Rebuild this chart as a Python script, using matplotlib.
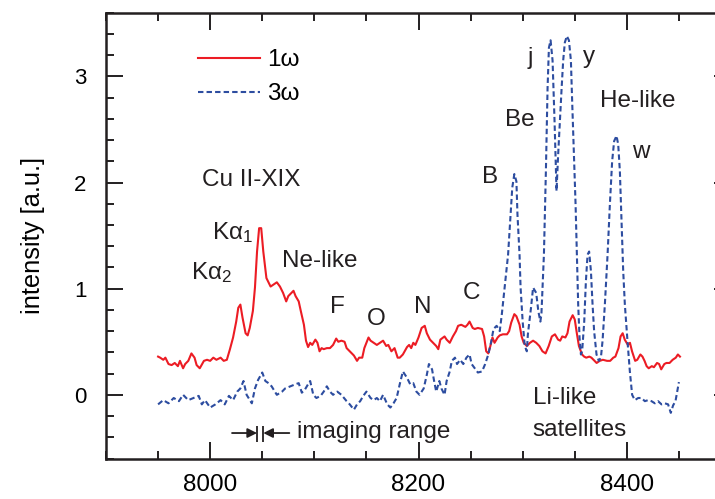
import numpy as np
import matplotlib
matplotlib.use("Agg")
import matplotlib.pyplot as plt
from matplotlib.ticker import MultipleLocator

plt.rcParams.update({'font.family': ['Liberation Sans', 'DejaVu Sans'],
                     'font.size': 17,
                     'mathtext.fontset': 'custom',
                     'mathtext.rm': 'Liberation Sans',
                     'mathtext.it': 'Liberation Sans:italic'})

# photon energy (eV) / intensity (a.u.)
E_1w = [7950, 7952, 7955, 7957, 7960, 7963, 7966, 7969, 7971, 7974, 7976, 7979,
        7982, 7985, 7987, 7990, 7994, 7997, 8000, 8003, 8006, 8010, 8013, 8016,
        8019, 8022, 8025, 8027, 8029, 8031, 8034, 8036, 8038, 8041, 8043, 8045,
        8047, 8049, 8051, 8054, 8056, 8058, 8061, 8064, 8067, 8070, 8073, 8075,
        8078, 8080, 8082, 8085, 8087, 8090, 8092, 8094, 8096, 8098, 8101, 8103,
        8105, 8107, 8109, 8112, 8115, 8118, 8121, 8123, 8126, 8129, 8131, 8134,
        8138, 8141, 8143, 8146, 8148, 8150, 8152, 8154, 8157, 8160, 8163, 8166,
        8169, 8171, 8174, 8177, 8180, 8182, 8185, 8189, 8191, 8193, 8195, 8197,
        8200, 8203, 8206, 8208, 8211, 8214, 8217, 8219, 8221, 8225, 8227, 8230,
        8233, 8236, 8238, 8241, 8245, 8247, 8249, 8252, 8254, 8257, 8261, 8263,
        8265, 8267, 8269, 8271, 8273, 8276, 8278, 8281, 8285, 8287, 8289, 8292,
        8294, 8297, 8299, 8301, 8304, 8307, 8310, 8313, 8316, 8319, 8322, 8325,
        8328, 8331, 8334, 8336, 8338, 8341, 8343, 8345, 8348, 8350, 8352, 8354,
        8357, 8359, 8361, 8364, 8366, 8369, 8371, 8374, 8377, 8381, 8384, 8387,
        8389, 8392, 8394, 8396, 8398, 8401, 8403, 8405, 8408, 8410, 8413, 8415,
        8417, 8419, 8421, 8424, 8426, 8429, 8431, 8433, 8436, 8438, 8441, 8444,
        8447, 8449, 8451]
I_1w = [0.36, 0.35, 0.33, 0.35, 0.29, 0.28, 0.30, 0.27, 0.32, 0.25, 0.29, 0.32,
        0.39, 0.35, 0.28, 0.25, 0.32, 0.33, 0.32, 0.35, 0.33, 0.35, 0.32, 0.33,
        0.43, 0.54, 0.69, 0.82, 0.85, 0.73, 0.58, 0.56, 0.63, 0.79, 1.01, 1.35,
        1.57, 1.57, 1.35, 1.10, 1.06, 1.02, 1.04, 1.06, 1.02, 0.96, 0.88, 0.93,
        0.96, 0.98, 0.93, 0.88, 0.79, 0.66, 0.51, 0.45, 0.49, 0.47, 0.52, 0.49,
        0.41, 0.44, 0.43, 0.44, 0.44, 0.47, 0.53, 0.50, 0.51, 0.50, 0.44, 0.41,
        0.37, 0.32, 0.35, 0.35, 0.44, 0.49, 0.54, 0.51, 0.49, 0.47, 0.49, 0.51,
        0.46, 0.47, 0.41, 0.44, 0.35, 0.35, 0.38, 0.45, 0.47, 0.44, 0.49, 0.47,
        0.54, 0.63, 0.65, 0.58, 0.52, 0.49, 0.46, 0.43, 0.52, 0.55, 0.52, 0.49,
        0.55, 0.60, 0.65, 0.66, 0.64, 0.66, 0.69, 0.63, 0.62, 0.63, 0.62, 0.55,
        0.41, 0.39, 0.46, 0.54, 0.49, 0.54, 0.56, 0.57, 0.57, 0.60, 0.68, 0.76,
        0.74, 0.66, 0.55, 0.49, 0.46, 0.49, 0.51, 0.49, 0.46, 0.41, 0.39, 0.46,
        0.55, 0.57, 0.52, 0.51, 0.55, 0.54, 0.58, 0.69, 0.75, 0.71, 0.58, 0.46,
        0.38, 0.36, 0.35, 0.36, 0.35, 0.32, 0.30, 0.32, 0.33, 0.32, 0.32, 0.35,
        0.36, 0.44, 0.55, 0.58, 0.52, 0.47, 0.49, 0.41, 0.32, 0.33, 0.38, 0.36,
        0.32, 0.27, 0.25, 0.27, 0.26, 0.30, 0.29, 0.24, 0.29, 0.30, 0.30, 0.33,
        0.35, 0.38, 0.36]

E_3w = [7950, 7955, 7960, 7965, 7970, 7974, 7979, 7984, 7989, 7992, 7995, 8000,
        8005, 8010, 8014, 8018, 8022, 8026, 8029, 8032, 8035, 8040, 8043, 8046,
        8050, 8053, 8056, 8059, 8064, 8069, 8072, 8077, 8082, 8085, 8088, 8091,
        8094, 8096, 8099, 8102, 8106, 8109, 8112, 8115, 8118, 8122, 8126, 8131,
        8134, 8138, 8141, 8144, 8147, 8150, 8154, 8157, 8160, 8163, 8166, 8170,
        8173, 8176, 8179, 8182, 8185, 8189, 8192, 8195, 8198, 8201, 8205, 8208,
        8210, 8213, 8215, 8217, 8220, 8222, 8225, 8227, 8230, 8232, 8235, 8237,
        8240, 8243, 8246, 8249, 8251, 8254, 8257, 8261, 8264, 8267, 8270, 8272,
        8275, 8278, 8280, 8282, 8284, 8286, 8288, 8290, 8292, 8294, 8295, 8297,
        8298, 8300, 8302, 8304, 8305, 8308, 8310, 8313, 8315, 8317, 8318,
        8320.4, 8322.3, 8323.9, 8325.2, 8326.8, 8328.7, 8330.6, 8332.5, 8334.1,
        8335.7, 8337.4, 8338.9, 8340.5, 8342.4, 8344.4, 8346.3, 8347.6, 8349.2,
        8350.8, 8352.0, 8353.3, 8354.6, 8355.9, 8357.1, 8359.1, 8360.7, 8362.3,
        8363.8, 8365.5, 8367.1, 8368.6, 8370.9, 8373.1, 8375.1, 8376.7, 8378.9,
        8381.5, 8383.7, 8385.9, 8387.8, 8390.1, 8391.7, 8393.3, 8394.9, 8396.5,
        8398.1, 8400.6, 8402.9, 8405.1, 8407.7, 8410.9, 8414.1, 8417.3, 8420.4,
        8423.7, 8426.9, 8430.0, 8433.3, 8436.5, 8439.6, 8442.2, 8444.4, 8446.7,
        8450.0]
I_3w = [-0.09, -0.05, -0.08, -0.03, -0.06, 0.00, -0.05, -0.03, -0.01, -0.09, -0.05, -0.12,
        -0.09, -0.05, -0.09, -0.01, -0.05, 0.03, 0.06, 0.13, 0.00, -0.08, 0.06, 0.14,
        0.21, 0.13, 0.11, 0.08, 0.00, 0.03, 0.06, 0.08, 0.10, 0.11, 0.02, 0.05,
        0.10, 0.13, 0.00, -0.03, -0.01, 0.03, 0.08, 0.03, 0.00, 0.03, 0.00, -0.06,
        -0.09, -0.14, -0.09, -0.06, -0.01, 0.03, -0.03, -0.05, -0.03, -0.06, 0.00, -0.09,
        -0.12, -0.08, -0.03, 0.10, 0.22, 0.16, 0.10, 0.11, 0.03, 0.00, 0.06, 0.19,
        0.29, 0.24, 0.13, 0.03, 0.13, 0.06, 0.00, 0.13, 0.22, 0.32, 0.35, 0.29,
        0.33, 0.29, 0.35, 0.38, 0.29, 0.25, 0.21, 0.22, 0.29, 0.38, 0.51, 0.62,
        0.65, 0.60, 0.76, 0.95, 1.13, 1.32, 1.64, 1.95, 2.08, 2.01, 1.70, 1.32,
        1.01, 0.69, 0.46, 0.41, 0.57, 0.82, 1.01, 0.96, 0.79, 0.69, 0.76,
        1.32, 2.11, 2.89, 3.27, 3.34, 3.15, 2.58, 1.92, 2.27,
        2.58, 2.89, 3.15, 3.32, 3.38, 3.34, 3.15, 2.74, 2.27,
        1.79, 1.32, 0.85, 0.54, 0.38, 0.41, 0.69, 1.07, 1.32,
        1.35, 1.17, 0.85, 0.60, 0.38, 0.32, 0.35, 0.51, 0.85,
        1.32, 1.79, 2.20, 2.39, 2.44, 2.36, 2.11, 1.64, 1.17,
        0.85, 0.51, 0.22, 0.00, -0.05, -0.03, -0.03, -0.06, -0.05,
        -0.06, -0.08, -0.06, -0.09, -0.08, -0.09, -0.17, -0.10, -0.06,
        0.12]

IMAGING_RANGE = (8045, 8051)

# text, energy, intensity (baseline, left aligned)
LABELS = [("Cu II-XIX", 7992, 1.97), ("K\u03b1$_1$", 8002, 1.47),
          ("K\u03b1$_2$", 7982, 1.09), ("Ne-like", 8069, 1.20),
          ("F", 8115, 0.77), ("O", 8150, 0.66), ("N", 8196, 0.77),
          ("C", 8242, 0.90), ("B", 8261, 2.00), ("Be", 8283, 2.53),
          ("j", 8305, 3.12), ("y", 8358, 3.13), ("He-like", 8374, 2.71),
          ("w", 8405, 2.23), ("Li-like", 8310, -0.09), ("satellites", 8309, -0.39)]

RED = "#ec1c24"
BLUE = "#2d4da0"

fig = plt.figure(figsize=(7.15, 4.99), dpi=100)
# axes run past the right edge, as in the cropped original
ax = fig.add_axes([106/715, 40.5/499, 625/715, 445.8/499])

ax.plot(E_1w, I_1w, color=RED, lw=1.5, label="1\u03c9")
ax.plot(E_3w, I_3w, color=BLUE, lw=1.5, ls=(0, (2.6, 1.5)), label="3\u03c9")

for txt, x, y in LABELS:
    ax.text(x, y, txt, ha="left", va="baseline", fontsize=17.5, color="#231f20")

# imaging range marker
lo, hi = IMAGING_RANGE
ax.vlines([lo, hi], -0.445, -0.29, color="#231f20", lw=1.3)
ax.annotate("", xy=(lo, -0.36), xytext=(lo - 24, -0.36),
            arrowprops=dict(arrowstyle="-|>", color="#231f20", lw=1.3, mutation_scale=14,
                            shrinkA=0, shrinkB=0))
ax.annotate("", xy=(hi, -0.36), xytext=(hi + 25, -0.36),
            arrowprops=dict(arrowstyle="-|>", color="#231f20", lw=1.3, mutation_scale=14,
                            shrinkA=0, shrinkB=0))
ax.text(8083.5, -0.41, "imaging range", ha="left", va="baseline", fontsize=17.5,
        color="#231f20")

ax.set_xlim(7900, 8500)
ax.set_ylim(-0.6, 3.6)
ax.xaxis.set_major_locator(MultipleLocator(200))
ax.xaxis.set_minor_locator(MultipleLocator(50))
ax.yaxis.set_major_locator(MultipleLocator(1))
ax.yaxis.set_minor_locator(MultipleLocator(0.2))
ax.tick_params(which="both", direction="in", top=True, right=True, width=1.4,
               color="#231f20")
ax.tick_params(which="major", length=12.5, pad=11)
ax.tick_params(which="minor", length=6)
ax.tick_params(axis="x", labelsize=17.5)
ax.tick_params(axis="y", labelsize=16, pad=14)
for s in ax.spines.values():
    s.set_linewidth(1.8)
    s.set_color("#231f20")

ax.set_ylabel("intensity [a.u.]", fontsize=18.4)
ax.yaxis.set_label_coords(-0.098, 0.5)

ax.legend(loc="upper left", bbox_to_anchor=(0.147, 0.918), frameon=False,
          handlelength=2.55, handletextpad=0.3, labelspacing=0.5,
          borderpad=0, borderaxespad=0, fontsize=17.5)

fig.savefig("out.png", dpi=100)
